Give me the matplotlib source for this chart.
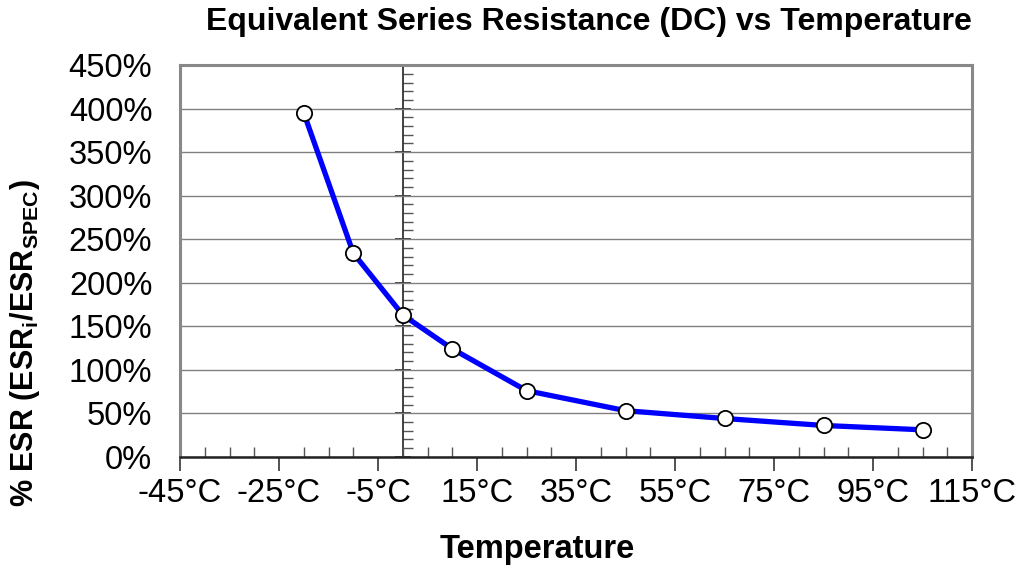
import matplotlib
matplotlib.use('Agg')
import matplotlib.pyplot as plt
from matplotlib.ticker import MultipleLocator, FuncFormatter

plt.rcParams['font.family'] = ['Liberation Sans', 'DejaVu Sans']
plt.rcParams['mathtext.fontset'] = 'custom'
plt.rcParams['mathtext.rm'] = 'Liberation Sans:bold'
plt.rcParams['mathtext.it'] = 'Liberation Sans:bold'
plt.rcParams['mathtext.bf'] = 'Liberation Sans:bold'

# data
temps = [-20, -10, 0, 10, 25, 45, 65, 85, 105]           # °C
esr_pct = [395, 234, 163, 124, 76, 53, 44, 36, 31]       # % of spec

x_ticks = [-45, -25, -5, 15, 35, 55, 75, 95, 115]
y_ticks = [0, 50, 100, 150, 200, 250, 300, 350, 400, 450]

fig = plt.figure(figsize=(10.2, 5.71), dpi=100)
ax = fig.add_axes([0.1765, 0.2, 0.7765, 0.686])

ax.plot(temps, esr_pct, color='#0000ff', lw=3.8, zorder=3,
        marker='o', ms=11, mfc='white', mec='black', mew=1.3)

ax.set_xlim(-45, 115)
ax.set_ylim(0, 450)

# horizontal grid
ax.set_yticks(y_ticks)
ax.yaxis.set_major_formatter(FuncFormatter(lambda v, p: f'{v:.0f}%'))
ax.grid(axis='y', color='#808080', lw=1.0)
ax.tick_params(axis='y', length=0, labelsize=23.5, pad=20)

# x axis: major ticks down, minor ticks up
ax.set_xticks(x_ticks)
ax.set_xticklabels([f'{t}°C' for t in x_ticks])
ax.xaxis.set_minor_locator(MultipleLocator(5))
ax.tick_params(axis='x', which='major', direction='out', length=10, width=1.2,
               labelsize=23.5, pad=5, color='#333333')
ax.tick_params(axis='x', which='minor', direction='in', length=7, width=1.0,
               color='#555555')

# frame
for side in ['left', 'top', 'right']:
    ax.spines[side].set_color('#888888')
    ax.spines[side].set_linewidth(2.2)
ax.spines['bottom'].set_color('#222222')
ax.spines['bottom'].set_linewidth(1.8)

# y axis line crossing at 0 °C
sec = ax.secondary_yaxis((0 - (-45)) / (115 - (-45)))
sec.set_yticks(y_ticks)
sec.yaxis.set_minor_locator(MultipleLocator(10))
sec.tick_params(which='major', direction='inout', length=12, width=1.2,
                labelleft=False, labelright=False, color='#222222')
sec.tick_params(which='minor', direction='in', length=7, width=1.0,
                labelleft=False, labelright=False, color='#555555')
sec.spines['left'].set_color('#222222')
sec.spines['left'].set_linewidth(1.2)

fig.text(0.577, 0.962, 'Equivalent Series Resistance (DC) vs Temperature',
         ha='center', va='center', fontsize=23, fontweight='bold')
fig.text(0.527, 0.037, 'Temperature', ha='center', va='center',
         fontsize=23.5, fontweight='bold')
fig.text(0.025, 0.40, r'% ESR (ESR$_\mathrm{i}$/ESR$_\mathrm{SPEC}$)',
         ha='center', va='center', rotation=90, fontsize=22, fontweight='bold')

fig.savefig('out.png', dpi=100)
